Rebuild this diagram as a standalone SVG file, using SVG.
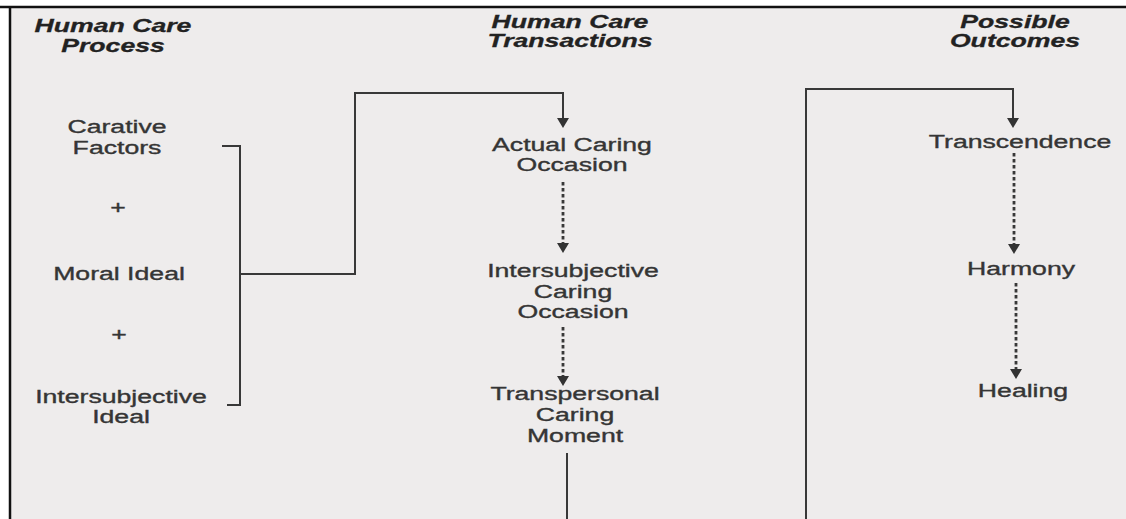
<svg xmlns="http://www.w3.org/2000/svg" width="1126" height="519" viewBox="0 0 1126 519">
<style>
.hd{font-family:"Liberation Sans",Arial,sans-serif;font-size:18px;font-weight:bold;font-style:italic;fill:#222;stroke:#222;stroke-width:0.3;text-anchor:middle}
.tx{font-family:"Liberation Sans",Arial,sans-serif;font-size:18px;fill:#353535;stroke:#353535;stroke-width:0.35;text-anchor:middle}
.ln{fill:none;stroke:#383838;stroke-width:2}
.dl{fill:none;stroke:#383838;stroke-width:2.8;stroke-dasharray:3.5 2.5}
</style>
<defs>
<marker id="ah" viewBox="0 0 10 12" refX="0" refY="6" markerWidth="10" markerHeight="13" markerUnits="userSpaceOnUse" orient="auto">
<path d="M0,0 L10,6 L0,12 z" fill="#333"/>
</marker>
</defs>
<rect x="0" y="0" width="1126" height="519" fill="#ffffff"/>
<rect x="10" y="7" width="1116" height="512" fill="#eeecec"/>
<line x1="0" y1="7" x2="1126" y2="7" stroke="#111" stroke-width="2.5"/>
<line x1="10" y1="7" x2="10" y2="519" stroke="#111" stroke-width="2.5"/>

<g id="connectors">
<path class="ln" d="M222,146 H240 V405 H227"/>
<path class="ln" d="M240,274 H355 V93 H563 V118" marker-end="url(#ah)"/>
<path class="dl" d="M563,182 V243" marker-end="url(#ah)"/>
<path class="dl" d="M563,327 V376" marker-end="url(#ah)"/>
<path class="ln" d="M567,453 V519"/>
<path class="ln" d="M806,519 V89 H1013 V118" marker-end="url(#ah)"/>
<path class="dl" d="M1014,153 V244" marker-end="url(#ah)"/>
<path class="dl" d="M1016,283 V369" marker-end="url(#ah)"/>
</g>

<g id="header-process" transform="translate(113 0) scale(1.48 1)">
<text class="hd" x="0" y="32">Human Care</text>
<text class="hd" x="0" y="52">Process</text>
</g>
<g id="header-transactions" transform="translate(570 0) scale(1.48 1)">
<text class="hd" x="0" y="28">Human Care</text>
<text class="hd" x="0" y="47">Transactions</text>
</g>
<g id="header-outcomes" transform="translate(1015 0) scale(1.48 1)">
<text class="hd" x="0" y="28">Possible</text>
<text class="hd" x="0" y="47">Outcomes</text>
</g>

<g id="carative-factors" transform="translate(117 0) scale(1.48 1)">
<text class="tx" x="0" y="133">Carative</text>
<text class="tx" x="0" y="154">Factors</text>
</g>
<g id="plus-1" transform="translate(118 0) scale(1.48 1)">
<text class="tx" x="0" y="214">+</text>
</g>
<g id="moral-ideal" transform="translate(119 0) scale(1.48 1)">
<text class="tx" x="0" y="280">Moral Ideal</text>
</g>
<g id="plus-2" transform="translate(119 0) scale(1.48 1)">
<text class="tx" x="0" y="341">+</text>
</g>
<g id="intersubjective-ideal" transform="translate(121 0) scale(1.48 1)">
<text class="tx" x="0" y="403">Intersubjective</text>
<text class="tx" x="0" y="423">Ideal</text>
</g>

<g id="actual-caring-occasion" transform="translate(572 0) scale(1.48 1)">
<text class="tx" x="0" y="151">Actual Caring</text>
<text class="tx" x="0" y="171">Occasion</text>
</g>
<g id="intersubjective-caring-occasion" transform="translate(573 0) scale(1.48 1)">
<text class="tx" x="0" y="277">Intersubjective</text>
<text class="tx" x="0" y="298">Caring</text>
<text class="tx" x="0" y="318">Occasion</text>
</g>
<g id="transpersonal-caring-moment" transform="translate(575 0) scale(1.48 1)">
<text class="tx" x="0" y="400">Transpersonal</text>
<text class="tx" x="0" y="421">Caring</text>
<text class="tx" x="0" y="442">Moment</text>
</g>

<g id="transcendence" transform="translate(1020 0) scale(1.48 1)">
<text class="tx" x="0" y="148">Transcendence</text>
</g>
<g id="harmony" transform="translate(1021 0) scale(1.48 1)">
<text class="tx" x="0" y="275">Harmony</text>
</g>
<g id="healing" transform="translate(1023 0) scale(1.48 1)">
<text class="tx" x="0" y="397">Healing</text>
</g>
</svg>
